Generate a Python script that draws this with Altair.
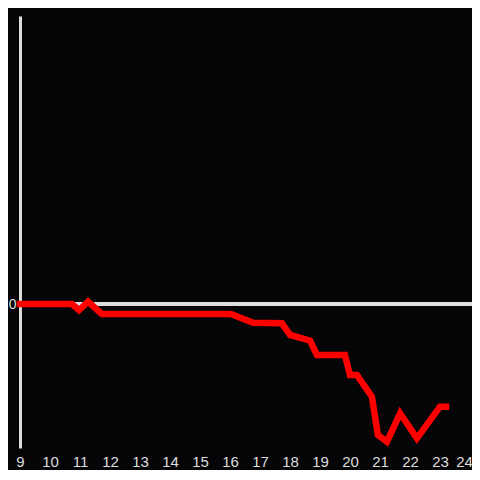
import altair as alt
import pandas as pd

hours = [9.0, 10.73, 10.97, 11.27, 11.73, 16.03, 16.77, 17.73, 18.0, 18.67, 18.9,
         19.83, 20.0, 20.23, 20.73, 20.93, 21.23, 21.67, 22.23, 23.0, 23.2]
values = [0, 0, -4.2, 1.6, -6.9, -6.9, -13, -13.4, -21.5, -25.5, -35.4,
          -35.4, -49.3, -49.3, -64.4, -91, -95.6, -75.9, -93.3, -71.3, -71.3]
x_ticks = list(range(9, 25))
y_ticks = [0]

df = pd.DataFrame({"hour": hours, "value": values})

xscale = alt.Scale(domain=[9, 24.0667], nice=False, zero=False)
yscale = alt.Scale(domain=[-100, 200], nice=False, zero=False)

rule = alt.Chart(df).mark_rule(color="#dddddd", strokeWidth=3).encode(
    y=alt.datum(0, scale=yscale)
)

line = alt.Chart(df).mark_line(color="#ff0000", strokeWidth=6.5, strokeCap="square").encode(
    x=alt.X("hour:Q", scale=xscale, title=None,
            axis=alt.Axis(values=x_ticks, domain=False, ticks=False, grid=False,
                          labelFlush=False, labelPadding=6, labelFontSize=15,
                          labelOffset={"condition": {"test": "datum.value == 24", "value": -6}, "value": 0},
                          labelColor="#dddddd")),
    y=alt.Y("value:Q", scale=yscale, title=None,
            axis=alt.Axis(values=y_ticks, domain=True, domainColor="#dddddd", domainWidth=3,
                          ticks=False, grid=False, labelPadding=4, labelFontSize=14,
                          labelColor="#dddddd")),
)

chart = alt.layer(rule, line).properties(
    width=452, height=432, autosize="none",
    padding={"left": 12, "top": 8, "right": 0, "bottom": 22},
    background="#050508",
).configure_view(stroke=None)

chart.save("out.html", embed_options={"renderer": "svg", "actions": False})
